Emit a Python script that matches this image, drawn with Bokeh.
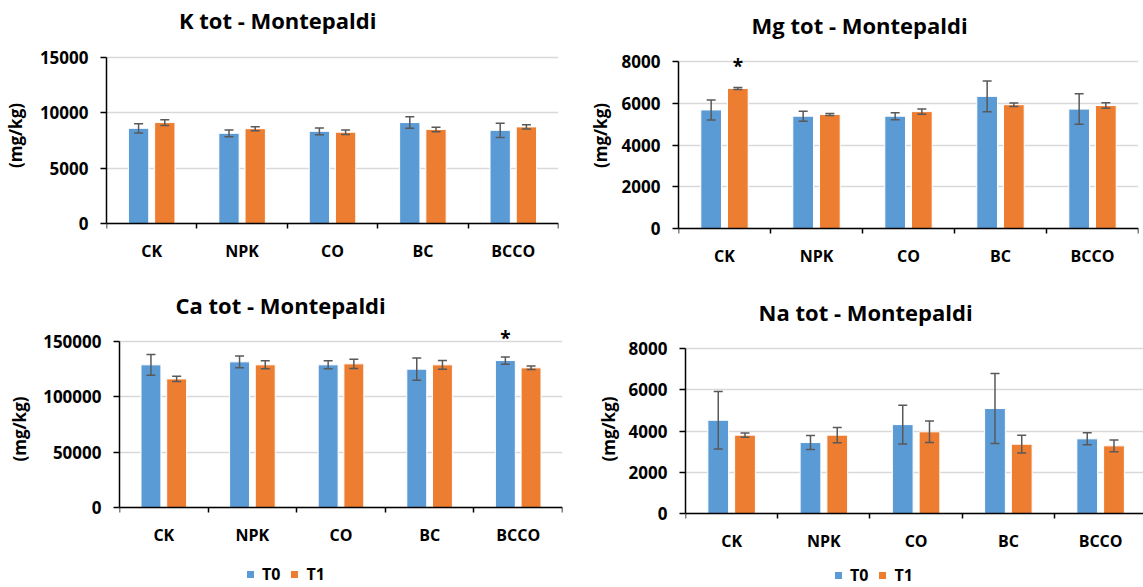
from math import pi
from bokeh.plotting import figure
from bokeh.models import (ColumnDataSource, Range1d, FixedTicker,
                          NumeralTickFormatter, Whisker, TeeHead, Label, Legend, LegendItem)
from bokeh.layouts import column, row
from bokeh.embed import file_html
from bokeh.resources import INLINE

# ---------------- data ----------------
categories = ["CK", "NPK", "CO", "BC", "BCCO"]
series = ["T0", "T1"]

k_t0 = [8600, 8150, 8330, 9120, 8420]
k_t0_err = [420, 300, 300, 515, 640]
k_t1 = [9120, 8570, 8250, 8500, 8730]
k_t1_err = [260, 180, 200, 200, 200]

mg_t0 = [5680, 5380, 5380, 6330, 5720]
mg_t0_err = [480, 240, 170, 740, 730]
mg_t1 = [6710, 5460, 5600, 5930, 5890]
mg_t1_err = [50, 50, 130, 80, 130]

ca_t0 = [128900, 131600, 128900, 125000, 132800]
ca_t0_err = [9400, 5400, 3600, 10000, 3300]
ca_t1 = [116200, 128900, 129800, 128900, 126200]
ca_t1_err = [2400, 3600, 4200, 4000, 1600]

na_t0 = [4520, 3440, 4310, 5090, 3620]
na_t0_err = [1390, 340, 940, 1700, 290]
na_t1 = [3800, 3800, 3960, 3360, 3280]
na_t1_err = [100, 370, 520, 430, 280]

titles = ["K tot  - Montepaldi", "Mg tot  - Montepaldi", "Ca tot  - Montepaldi", "Na tot  - Montepaldi"]
y_label = "(mg/kg)"
# significance marks: (chart index, category, series)
stars = [(1, "CK", "T1"), (2, "BCCO", "T0")]

# ---------------- style ----------------
BLUE = "#5B9BD5"
ORANGE = "#ED7D31"
ERR = "#595959"
GRID = "#D9D9D9"
FONT = "Open Sans"
OFF = 0.145
BW = 0.225


def make_chart(title, t0, t0e, t1, t1e, ymax, ystep, canvas, area, xend,
               title_c, ylab_standoff, legend_pos=None, star_y=None, star_list=()):
    x0c, y0c, w, h = canvas          # canvas position on page
    L, R, T, B = area                # plot-area pixel box on page
    ppu = (B - T) / ymax
    y_start = -(y0c + h - B) / ppu
    y_end = ymax + (T - y0c) / ppu
    p = figure(width=w, height=h, x_range=Range1d(0, xend), y_range=Range1d(y_start, y_end),
               output_backend="svg", toolbar_location=None,
               min_border_left=L - x0c, min_border_right=x0c + w - R,
               min_border_top=0, min_border_bottom=0)
    p.outline_line_color = None
    p.background_fill_color = "white"
    p.border_fill_color = "white"

    idx = list(range(len(categories)))
    x0 = [i + 0.5 - OFF for i in idx]
    x1 = [i + 0.5 + OFF for i in idx]
    src0 = ColumnDataSource(dict(x=x0, top=t0, lo=[v - e for v, e in zip(t0, t0e)],
                                 hi=[v + e for v, e in zip(t0, t0e)]))
    src1 = ColumnDataSource(dict(x=x1, top=t1, lo=[v - e for v, e in zip(t1, t1e)],
                                 hi=[v + e for v, e in zip(t1, t1e)]))
    r0 = p.vbar(x="x", top="top", bottom=0, width=BW, source=src0, fill_color=BLUE,
                line_color="white", line_width=1)
    r1 = p.vbar(x="x", top="top", bottom=0, width=BW, source=src1, fill_color=ORANGE,
                line_color="white", line_width=1)
    for s in (src0, src1):
        wsk = Whisker(base="x", upper="hi", lower="lo", source=s, level="overlay",
                      line_color=ERR, line_width=1.5,
                      upper_head=TeeHead(size=9, line_color=ERR, line_width=1.5),
                      lower_head=TeeHead(size=9, line_color=ERR, line_width=1.5))
        p.add_layout(wsk)

    # axes
    p.xgrid.visible = False
    p.ygrid.grid_line_color = GRID
    p.ygrid.grid_line_width = 1.5
    p.yaxis.ticker = FixedTicker(ticks=list(range(0, ymax + 1, ystep)))
    p.yaxis.bounds = (0, ymax)
    p.yaxis.formatter = NumeralTickFormatter(format="0")
    p.yaxis.minor_tick_line_color = None
    p.yaxis.major_tick_out = 6
    p.yaxis.major_tick_in = 0
    p.yaxis.major_label_standoff = 12
    p.yaxis.axis_label = y_label
    p.yaxis.axis_label_standoff = ylab_standoff
    p.yaxis.axis_label_text_font = FONT
    p.yaxis.axis_label_text_font_style = "bold"
    p.yaxis.axis_label_text_font_size = "17px"
    p.yaxis.axis_label_text_color = "black"
    for ax in (p.xaxis, p.yaxis):
        ax.axis_line_color = "black"
        ax.axis_line_width = 1.5
        ax.major_tick_line_color = "black"
        ax.major_tick_line_width = 1.5
        ax.major_label_text_font = FONT
        ax.major_label_text_font_style = "bold"
        ax.major_label_text_color = "black"
    p.yaxis.major_label_text_font_size = "17px"
    p.xaxis.major_label_text_font_size = "16px"
    centers = [i + 0.5 for i in idx]
    p.xaxis.fixed_location = 0
    p.xaxis.ticker = FixedTicker(ticks=centers, minor_ticks=list(range(len(categories) + 1)))
    p.xaxis.major_label_overrides = {c: name for c, name in zip(centers, categories)}
    p.xaxis.major_tick_out = 0
    p.xaxis.major_tick_in = 0
    p.xaxis.minor_tick_out = 5
    p.xaxis.minor_tick_in = 0
    p.xaxis.minor_tick_line_color = "black"
    p.xaxis.minor_tick_line_width = 1.5
    p.xaxis.major_label_standoff = 11

    # title (inside the extended frame)
    p.add_layout(Label(x=title_c[0] - L, y=y0c + h - title_c[1], x_units="screen", y_units="screen",
                       text=title, text_align="center", text_baseline="middle",
                       text_font=FONT, text_font_style="bold", text_font_size="22px",
                       text_color="black"))
    # significance stars
    for cat, ser in star_list:
        i = categories.index(cat)
        xs = i + 0.5 + (-OFF if ser == "T0" else OFF)
        p.add_layout(Label(x=xs, y=y0c + h - star_y, x_units="data", y_units="screen", text="*",
                           text_align="center", text_baseline="middle",
                           text_font=FONT, text_font_style="bold", text_font_size="19px",
                           text_color="black"))
    if legend_pos is not None:
        leg = Legend(items=[LegendItem(label=series[0], renderers=[r0]),
                            LegendItem(label=series[1], renderers=[r1])],
                     orientation="horizontal",
                     location=(legend_pos[0] - L, y0c + h - legend_pos[1] - 11),
                     glyph_width=10, glyph_height=10, label_standoff=7, spacing=9,
                     padding=0, margin=0, border_line_color=None, background_fill_alpha=0,
                     label_text_font=FONT, label_text_font_style="bold",
                     label_text_font_size="16px", label_text_color="black",
                     label_height=12, label_width=10)
        p.add_layout(leg)
    return p


def star_for(chart_index):
    return [(c, s) for (ci, c, s) in stars if ci == chart_index]


p1 = make_chart(titles[0], k_t0, k_t0_err, k_t1, k_t1_err, 15000, 5000,
                (0, 0, 570, 270), (106, 558, 57, 223), 5, (280, 19), 10)
p2 = make_chart(titles[1], mg_t0, mg_t0_err, mg_t1, mg_t1_err, 8000, 2000,
                (570, 0, 573, 270), (678, 1138, 61, 228), 5, (862, 24), 7,
                star_y=65, star_list=star_for(1))
p3 = make_chart(titles[2], ca_t0, ca_t0_err, ca_t1, ca_t1_err, 150000, 50000,
                (0, 270, 570, 317), (119, 562, 341, 507), 5, (283, 304), 9,
                legend_pos=(245, 574), star_y=337, star_list=star_for(2))
p4 = make_chart(titles[3], na_t0, na_t0_err, na_t1, na_t1_err, 8000, 2000,
                (570, 270, 573, 317), (685, 1143, 348, 513), 4.965, (868, 311), 6,
                legend_pos=(833, 575))

layout = column(row(p1, p2), row(p3, p4))
open("out.html", "w").write(file_html(layout, INLINE))
